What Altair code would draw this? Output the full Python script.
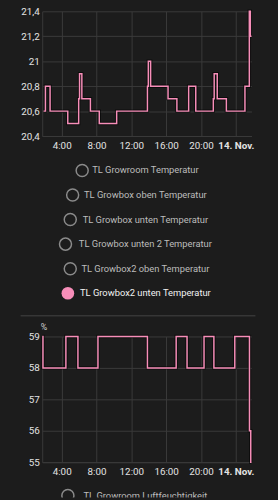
import altair as alt
import pandas as pd

# ---------------- data ----------------
# TL Growbox2 unten Temperatur (°C), step values
temp_time = ["2023-11-13T01:55", "2023-11-13T02:08", "2023-11-13T02:40", "2023-11-13T04:42",
             "2023-11-13T05:57", "2023-11-13T06:03", "2023-11-13T06:19", "2023-11-13T07:18",
             "2023-11-13T08:19", "2023-11-13T10:19", "2023-11-13T13:51", "2023-11-13T13:57",
             "2023-11-13T14:13", "2023-11-13T16:13", "2023-11-13T17:14", "2023-11-13T18:35",
             "2023-11-13T19:24", "2023-11-13T21:25", "2023-11-13T21:31", "2023-11-13T21:52",
             "2023-11-13T22:55", "2023-11-14T01:03", "2023-11-14T01:33", "2023-11-14T01:40",
             "2023-11-14T01:48"]
temp_value = [20.6, 20.8, 20.6, 20.5, 20.7, 20.9, 20.7, 20.6, 20.5, 20.6, 20.8, 21.0,
              20.8, 20.7, 20.6, 20.8, 20.6, 20.7, 20.9, 20.7, 20.6, 20.8, 21.4, 21.2, 21.2]

# Humidity (%), step values
hum_time = ["2023-11-13T01:46", "2023-11-13T01:51", "2023-11-13T04:29", "2023-11-13T05:52",
            "2023-11-13T08:10", "2023-11-13T13:51", "2023-11-13T17:09", "2023-11-13T18:24",
            "2023-11-13T20:21", "2023-11-13T21:29", "2023-11-13T23:53", "2023-11-14T01:34",
            "2023-11-14T01:43", "2023-11-14T01:48"]
hum_value = [59, 58, 59, 58, 59, 58, 59, 58, 59, 58, 59, 56, 55, 55]

x_domain = ["2023-11-13T01:46", "2023-11-14T01:48"]
x_ticks = ["2023-11-13T04:00", "2023-11-13T08:00", "2023-11-13T12:00",
           "2023-11-13T16:00", "2023-11-13T20:00", "2023-11-14T00:00"]
temp_ticks = [20.4, 20.6, 20.8, 21.0, 21.2, 21.4]
hum_ticks = [55, 56, 57, 58, 59]

temp_series = ["TL Growroom Temperatur", "TL Growbox oben Temperatur",
               "TL Growbox unten Temperatur", "TL Growbox unten 2 Temperatur",
               "TL Growbox2 oben Temperatur", "TL Growbox2 unten Temperatur"]
temp_selected = [False, False, False, False, False, True]
hum_series = ["TL Growroom Luftfeuchtigkeit"]
hum_selected = [False]

# ---------------- style ----------------
PINK = "#f78eb9"
GRID = "#3a3a3a"
LABEL = "#e3e3e3"
BG = "#1c1c1c"
FONT = "Roboto"
W = 213
AX_FS = 10
LEG_FS = 9.5
CHAR_W = 4.85


def dt(s):
    d, t = s.split("T")
    y, m, dd = map(int, d.split("-"))
    h, mi = map(int, t.split(":"))
    return alt.DateTime(year=y, month=m, date=dd, hours=h, minutes=mi)


x_scale = alt.Scale(domain=[dt(v) for v in x_domain])


def x_axis():
    return alt.Axis(
        values=[dt(v) for v in x_ticks], title=None, grid=True, gridColor=GRID,
        domain=True, domainColor=GRID, ticks=False, labelPadding=5,
        labelColor=LABEL, labelFontSize=AX_FS, labelFont=FONT,
        labelFlush=False, labelOverlap=False,
        labelExpr="hours(datum.value)==0 ? timeFormat(datum.value, '%-d. %b') + '.' : timeFormat(datum.value, '%-H:%M')",
        labelFontWeight={"condition": {"test": "hours(datum.value)==0", "value": "bold"},
                         "value": "normal"},
    )


def line_panel(times, values, ticks, ydom, height, fmt, unit=None):
    df = pd.DataFrame({"t": times, "v": values})
    yaxis_kw = dict(values=ticks, grid=True, gridColor=GRID, domain=True, domainColor=GRID,
                    ticks=False, labelPadding=3, labelColor=LABEL, labelFontSize=AX_FS,
                    labelFont=FONT, labelExpr=fmt)
    if unit:
        yaxis_kw.update(title=unit, titleAngle=0, titleAlign="left", titleBaseline="middle",
                        titleX=-2, titleY=-10, titleFontSize=9, titleFontWeight="normal",
                        titleColor="#cfcfcf", titleFont=FONT)
    else:
        yaxis_kw.update(title=None)
    enc = dict(
        x=alt.X("t:T", scale=x_scale, axis=x_axis()),
        y=alt.Y("v:Q", scale=alt.Scale(domain=ydom, nice=False, zero=False),
                axis=alt.Axis(**yaxis_kw)),
    )
    base = alt.Chart(df)
    shadow = base.mark_line(interpolate="step-after", color="#000000",
                            strokeWidth=3.5, opacity=0.55).encode(**enc)
    line = base.mark_line(interpolate="step-after", color=PINK,
                          strokeWidth=1.5).encode(**enc)
    return alt.layer(shadow, line).properties(width=W, height=height)


def legend_panel(names, selected, height, ydom, separator=False):
    df = pd.DataFrame({"name": names, "sel": selected, "row": list(range(len(names)))})
    base = alt.Chart(df).transform_calculate(
        cx=f"105 - length(datum.name) * {CHAR_W} / 2 - 11"
    )
    yenc = alt.Y("row:Q", scale=alt.Scale(domain=ydom, nice=False, zero=False, reverse=True),
                 axis=None)
    xenc = alt.X("cx:Q", scale=alt.Scale(domain=[0, W], nice=False, zero=False), axis=None)
    ring = base.transform_filter("!datum.sel").mark_point(
        shape="circle", size=150, filled=False, color="#8a8a8a", strokeWidth=1.5,
        opacity=1, clip=True).encode(x=xenc, y=yenc)
    dot = base.transform_filter("datum.sel").mark_point(
        shape="circle", size=165, filled=True, color=PINK, opacity=1,
        clip=True).encode(x=xenc, y=yenc)
    txt = base.mark_text(align="center", baseline="middle", font=FONT, fontSize=LEG_FS,
                         clip=True).encode(
        x=alt.value(105), y=yenc, text="name:N",
        color=alt.condition("datum.sel", alt.value("#f2f2f2"), alt.value("#bdbdbd")))
    layers = [ring, dot, txt]
    if separator:
        sep = alt.Chart(alt.Data(values=[{"s": 1}])).mark_rule(
            color="#444444", strokeWidth=1).encode(
            x=alt.value(-22), x2=alt.value(217), y=alt.value(183))
        layers.append(sep)
    return alt.layer(*layers).properties(width=W, height=height)


p1 = line_panel(temp_time, temp_value, temp_ticks, [20.4, 21.4], 127,
                "replace(format(datum.value, '.1~f'), '.', ',')")
p2 = legend_panel(temp_series, temp_selected, 204, [-1.4, 6.76], separator=True)
p3 = line_panel(hum_time, hum_value, hum_ticks, [55, 59], 128,
                "format(datum.value, 'd')", unit="%")
p4 = legend_panel(hum_series, hum_selected, 36, [-1.36, 0.08])

chart = alt.vconcat(p1, p2, p3, p4, spacing=0, bounds="flush").properties(
    padding={"left": 20, "top": 0, "right": 20, "bottom": 0},
    background=BG,
).configure_view(stroke=None)

chart.save("out.html", embed_options={"renderer": "svg", "actions": False})
